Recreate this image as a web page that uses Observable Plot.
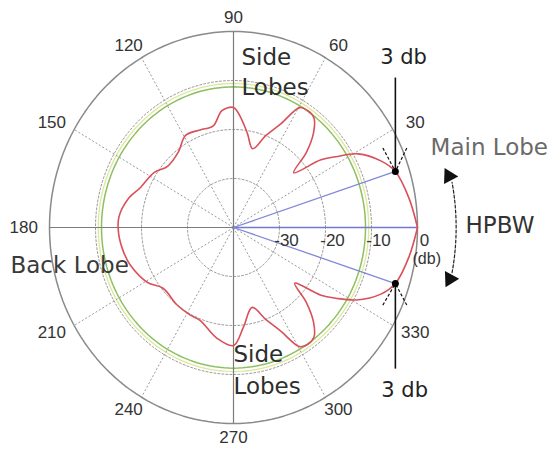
<!DOCTYPE html>
<html>
<head>
<meta charset="utf-8">
<script src="https://cdn.jsdelivr.net/npm/d3@7"></script>
<script src="https://cdn.jsdelivr.net/npm/@observablehq/plot@0.6"></script>
<style>
  html, body { margin: 0; padding: 0; background: #fff; }
  #chart svg { display: block; }
</style>
</head>
<body>
<div id="chart"></div>
<script>
// ---- data ----
const angleTicks = [30, 60, 90, 120, 150, 180, 210, 240, 270, 300, 330];
const radialTicks = [-30, -20, -10, 0];
const dbMin = -40;
const patternAngle = [0, 9, 18, 23, 29, 33, 36, 40.5, 44, 48, 52, 56, 59.5, 64, 69.5, 75.5, 81, 86, 90, 96, 102, 110, 119, 128, 139, 147, 158, 166, 175, 183, 192, 199, 211, 219, 232, 242, 249, 261, 270, 276, 284, 290.5, 296, 300.5, 304, 308, 312, 316, 319.5, 324, 327, 331, 337, 342, 351, 360];
const patternDb = [0, -1.4, -3, -5.2, -9, -13.5, -16.5, -22.8, -18, -14, -11.6, -11.2, -11.6, -16.4, -20, -23.4, -20.6, -17.5, -15.5, -16, -18.8, -18.8, -18.5, -20.5, -21, -19.4, -18.2, -16.3, -15, -15, -15.6, -16.3, -18.2, -20.3, -20, -19.8, -19.7, -17.1, -15.9, -19.5, -23.2, -20, -16.4, -11.8, -11.2, -11.6, -14, -18, -22.5, -16.5, -13.5, -9.5, -5.2, -3, -1.4, 0];
const greenDb = -11.3;
const yellowDb = -10.6;
const halfPowerDb = -3;
const halfPowerAngles = [18, -18];

// ---- helpers ----
const rad = d => d * Math.PI / 180;
const rOf = db => (db - dbMin) / -dbMin;
const pol = (a, r) => ({x: r * Math.cos(rad(a)), y: r * Math.sin(rad(a))});
const circle = (r, a0 = 0, a1 = 360, step = 2) => d3.range(a0, a1 + 0.001, step).map(a => pol(a, r));
const seg = a => { const p = pol(a, 1); return {x1: 0, y1: 0, x2: p.x, y2: p.y}; };

const pattern = patternAngle.map((a, i) => pol(a, rOf(patternDb[i])));
const hp = halfPowerAngles.map(a => ({a, ...pol(a, rOf(halfPowerDb))}));
const spokesDashed = [30, 60, 120, 150, 210, 240, 300, 330].map(seg);
const axes = [0, 90, 180, 270].map(seg);
const angleLabels = angleTicks.map(a => ({x: 1.14 * Math.cos(rad(a)), y: 1.07 * Math.sin(rad(a)), t: String(a)}));
const radialLabels = radialTicks.map(v => ({x: rOf(v), y: 0, t: String(v)}));

// annotation layout (normalized plot units)
const hpTop = hp[0], hpBot = hp[1];
const arrowLinks = [
  {x1: hpTop.x, y1: 0.765, x2: hpTop.x, y2: hpTop.y},
  {x1: hpBot.x, y1: -0.72, x2: hpBot.x, y2: hpBot.y}
];
const arrowDash = [
  {x1: hpTop.x - 0.068, y1: hpTop.y + 0.12, x2: hpTop.x, y2: hpTop.y},
  {x1: hpTop.x + 0.062, y1: hpTop.y + 0.12, x2: hpTop.x, y2: hpTop.y},
  {x1: hpBot.x - 0.068, y1: hpBot.y - 0.11, x2: hpBot.x, y2: hpBot.y},
  {x1: hpBot.x + 0.062, y1: hpBot.y - 0.11, x2: hpBot.x, y2: hpBot.y}
];
const hpbwArc = circle(1.21, -11, 11, 1);
const hpbwHeads = [{...pol(12.6, 1.2), rot: -28}, {...pol(-12.6, 1.205), rot: 208}];

const notesStart = [
  {x: 0.043, y: 0.867, t: "Side", c: "#2c2f2c"},
  {x: 0.043, y: 0.715, t: "Lobes", c: "#2c2f2c"},
  {x: 0.0, y: -0.648, t: "Side", c: "#2c2f2c"},
  {x: 0.0, y: -0.812, t: "Lobes", c: "#2c2f2c"},
  {x: -1.212, y: -0.194, t: "Back Lobe", c: "#3a3a3a"},
  {x: 1.071, y: 0.408, t: "Main Lobe", c: "#6a6a6a"},
  {x: 1.261, y: 0.01, t: "HPBW", c: "#333333"}
];
const notesMiddle = [
  {x: 0.924, y: 0.867, t: "3 db"},
  {x: 0.93, y: -0.832, t: "3 db"}
];

const sans = "Liberation Sans, Arial, sans-serif";
const chart = Plot.plot({
  width: 560,
  height: 452,
  margin: 0,
  style: {background: "#fff"},
  x: {domain: [-233 / 184, 327 / 184], range: [0, 560], axis: null},
  y: {domain: [-225 / 196, 227 / 196], range: [452, 0], axis: null},
  marks: [
    // grid circles
    ...[-30, -20, -10].map(v => Plot.line(circle(rOf(v)), {x: "x", y: "y", stroke: "#9a9a9a", strokeWidth: 1, strokeDasharray: "2,2"})),
    Plot.line(circle(rOf(yellowDb)), {x: "x", y: "y", stroke: "#dfe79a", strokeWidth: 1.3}),
    Plot.line(circle(rOf(greenDb)), {x: "x", y: "y", stroke: "#8cc060", strokeWidth: 1.5}),
    Plot.line(circle(1), {x: "x", y: "y", stroke: "#8a8a8a", strokeWidth: 1.5}),
    Plot.link(spokesDashed, {x1: "x1", y1: "y1", x2: "x2", y2: "y2", stroke: "#9a9a9a", strokeWidth: 1, strokeDasharray: "2,2"}),
    Plot.link(axes, {x1: "x1", y1: "y1", x2: "x2", y2: "y2", stroke: "#7c7c7c", strokeWidth: 1.2}),
    // blue HPBW rays
    Plot.link([{x: 1, y: 0}], {x1: 0, y1: 0, x2: "x", y2: "y", stroke: "#7078d0", strokeWidth: 1.4}),
    Plot.link(hp, {x1: 0, y1: 0, x2: "x", y2: "y", stroke: "#8088d8", strokeWidth: 1.3}),
    // pattern
    Plot.line(pattern, {x: "x", y: "y", curve: "catmull-rom", stroke: "#d9505a", strokeWidth: 1.6}),
    // 3 dB markers
    Plot.link(arrowDash, {x1: "x1", y1: "y1", x2: "x2", y2: "y2", stroke: "#111", strokeWidth: 1.2, strokeDasharray: "3,2"}),
    Plot.link(arrowLinks, {x1: "x1", y1: "y1", x2: "x2", y2: "y2", stroke: "#111", strokeWidth: 1.6}),
    Plot.dot(hp, {x: "x", y: "y", r: 3.5, fill: "#000"}),
    // HPBW arc
    Plot.line(hpbwArc, {x: "x", y: "y", stroke: "#222", strokeWidth: 1.2, strokeDasharray: "3,2"}),
    Plot.dot(hpbwHeads, {x: "x", y: "y", symbol: "triangle", r: 6, fill: "#111", rotate: "rot"}),
    // labels
    Plot.text(angleLabels, {x: "x", y: "y", text: "t", fontSize: 17, fill: "#333", fontFamily: sans}),
    Plot.text(radialLabels, {x: "x", y: "y", text: "t", dx: 7, dy: 13, fontSize: 17, fill: "#333", fontFamily: sans}),
    Plot.text([{x: 0.973, y: -0.158}], {x: "x", y: "y", text: () => "(db)", textAnchor: "start", fontSize: 16, fill: "#333", fontFamily: sans}),
    Plot.text(notesStart, {x: "x", y: "y", text: "t", fill: "c", textAnchor: "start", fontSize: 23, fontFamily: "DejaVu Sans, sans-serif"}),
    Plot.text(notesMiddle, {x: "x", y: "y", text: "t", fill: "#222", textAnchor: "middle", fontSize: 21, fontFamily: "DejaVu Sans, sans-serif"})
  ]
});
document.getElementById("chart").appendChild(chart);
</script>
</body>
</html>
